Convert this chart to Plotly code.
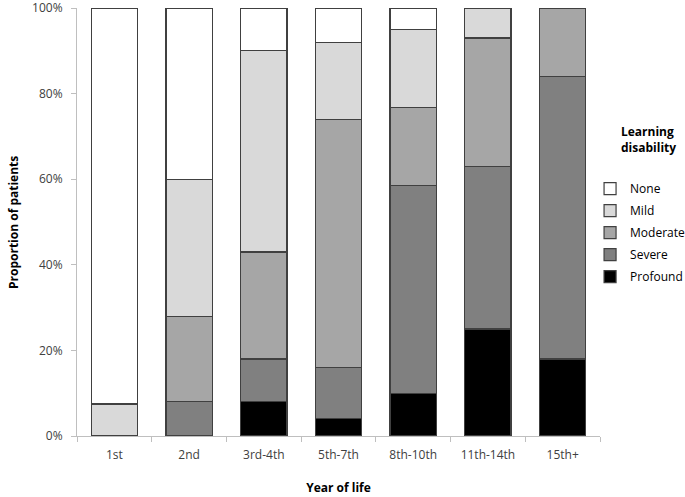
import plotly.graph_objects as go

# Anteile der Patienten je Lebensjahr (in %)
years = ["1st", "2nd", "3rd-4th", "5th-7th", "8th-10th", "11th-14th", "15th+"]
profound = [0, 0, 8, 4, 10, 25, 18]
severe = [0, 8, 10, 12, 48.6, 38, 66]
moderate = [0, 20, 25, 58, 18.2, 30, 16]
mild = [7.5, 32, 47, 18, 18.2, 7, 0]
none = [92.5, 40, 10, 8, 5, 0, 0]
y_ticks = [0, 20, 40, 60, 80, 100]

series = [
    ("Profound", profound, "#000000"),
    ("Severe", severe, "#808080"),
    ("Moderate", moderate, "#a6a6a6"),
    ("Mild", mild, "#d9d9d9"),
    ("None", none, "#ffffff"),
]

FONT = "Open Sans"

fig = go.Figure()
for i, (name, vals, col) in enumerate(series):
    fig.add_trace(go.Bar(
        x=years, y=vals, name=name, legendgroup=name,
        legendrank=len(series) - i,  # None oben, Profound unten
        marker=dict(color=col, line=dict(color="#404040", width=1.2)),
        width=0.62,
    ))

# Legendentitel als Annotation (linksbuendig ueber den Symbolen)
fig.add_annotation(
    text="<b>Learning<br>disability</b>", xref="paper", yref="paper",
    x=1.036, y=0.735, xanchor="left", yanchor="top", align="left",
    showarrow=False, font=dict(size=12, color="#000000"),
)
# y-Achsentitel
fig.add_annotation(
    text="<b>Proportion of patients</b>", xref="paper", yref="paper",
    x=-0.1224, y=0.5, xanchor="center", yanchor="middle", textangle=-90,
    showarrow=False, font=dict(size=12, color="#000000"),
)

fig.update_layout(
    barmode="stack",
    width=685, height=497,
    margin=dict(l=77, r=85, t=8, b=61, autoexpand=False),
    plot_bgcolor="white", paper_bgcolor="white",
    font=dict(family=FONT, size=12, color="#404040"),
    legend=dict(
        traceorder="grouped", tracegroupgap=3,
        x=0.981, xanchor="left", y=0.612, yanchor="top",
        itemwidth=30, font=dict(size=12, color="#000000"),
        bgcolor="rgba(0,0,0,0)",
    ),
    xaxis=dict(
        title=dict(text="<b>Year of life</b>", font=dict(size=12, color="#000000"), standoff=21),
        showline=True, linecolor="#bfbfbf", linewidth=1,
        ticks="outside", tickson="boundaries", ticklen=5, tickcolor="#bfbfbf",
        ticklabelstandoff=8,
        tickfont=dict(size=12, color="#404040"),
    ),
    yaxis=dict(
        range=[0, 100], tickvals=y_ticks, ticktext=[f"{v}%" for v in y_ticks],
        showline=True, linecolor="#bfbfbf", linewidth=1,
        ticks="outside", ticklen=5, tickcolor="#bfbfbf", ticklabelstandoff=6,
        ticklabeloverflow="allow",
        showgrid=False, zeroline=False,
        tickfont=dict(size=12, color="#404040"),
    ),
)

# Browser-Standardrand der Seite entfernen
fig.write_html("out.html", config={"displayModeBar": False},
               post_script="document.body.style.margin='0px';")
